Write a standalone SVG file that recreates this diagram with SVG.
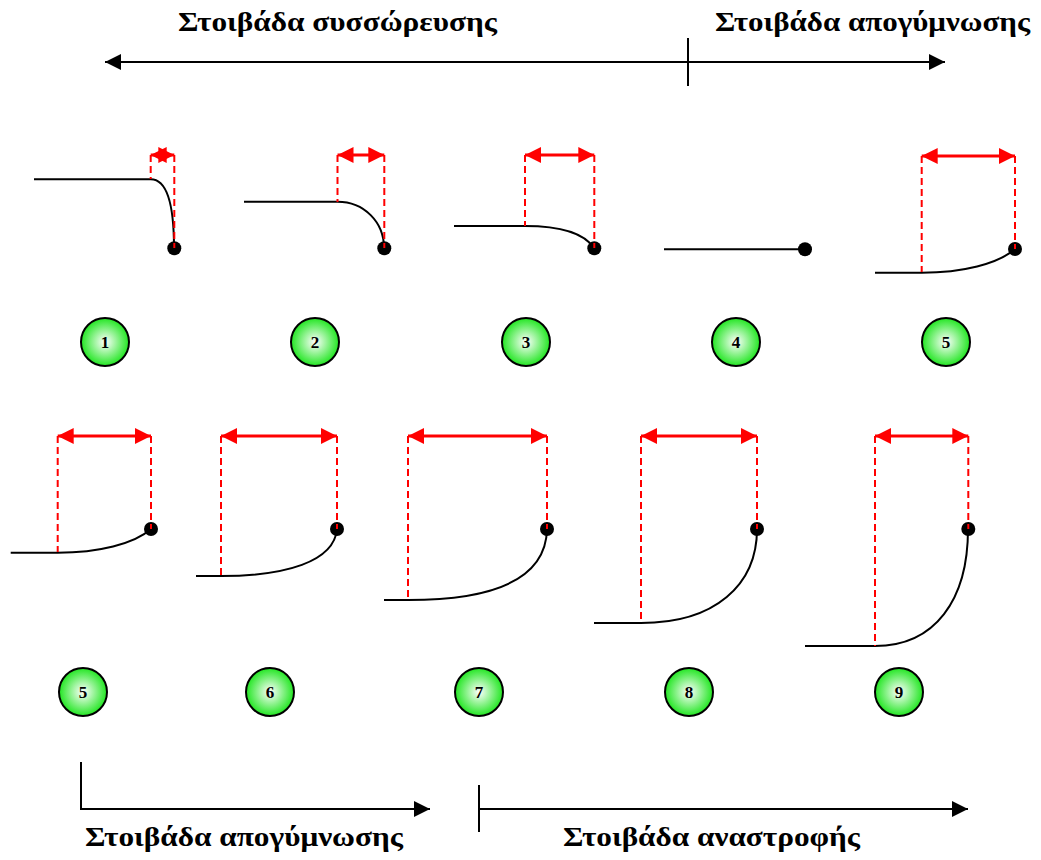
<svg xmlns="http://www.w3.org/2000/svg" width="1041" height="860" viewBox="0 0 1041 860">
<style>
.title{font-family:"Liberation Serif","DejaVu Serif","Times New Roman",serif;font-weight:bold;font-size:28px;fill:#000}
.num{font-family:"Liberation Serif","Times New Roman",serif;font-weight:bold;font-size:17px;fill:#000;text-anchor:middle}
.curve{fill:none;stroke:#000;stroke-width:2}
.dash{fill:none;stroke:#ff0000;stroke-width:2;stroke-dasharray:7,4}
.dim{fill:none;stroke:#ff0000;stroke-width:3;marker-start:url(#rs);marker-end:url(#re)}
.dot{fill:#000}
.badge{fill:url(#g);stroke:#000;stroke-width:2}
.axis{fill:none;stroke:#000;stroke-width:2}
</style>
<defs>
<radialGradient id="g" cx="50%" cy="50%" r="50%">
<stop offset="0" stop-color="#ffffff"/>
<stop offset="1" stop-color="#22e622"/>
</radialGradient>
<marker id="re" markerUnits="userSpaceOnUse" markerWidth="18" markerHeight="16" refX="16" refY="8" orient="auto"><path d="M0,0 L16,8 L0,16 Z" fill="#ff0000"/></marker>
<marker id="rs" markerUnits="userSpaceOnUse" markerWidth="18" markerHeight="16" refX="0" refY="8" orient="auto"><path d="M16,0 L0,8 L16,16 Z" fill="#ff0000"/></marker>
<marker id="ka" markerUnits="userSpaceOnUse" markerWidth="18" markerHeight="16" refX="16" refY="8" orient="auto"><path d="M0,0 L16,8 L0,16 Z" fill="#000"/></marker>
<marker id="kb" markerUnits="userSpaceOnUse" markerWidth="18" markerHeight="16" refX="0" refY="8" orient="auto"><path d="M16,0 L0,8 L16,16 Z" fill="#000"/></marker>
</defs>
<rect width="1041" height="860" fill="#fff"/>

<g id="labels">
<text class="title" x="178" y="31" textLength="319" lengthAdjust="spacingAndGlyphs">Στοιβάδα συσσώρευσης</text>
<text class="title" x="715" y="31" textLength="315" lengthAdjust="spacingAndGlyphs">Στοιβάδα απογύμνωσης</text>
<text class="title" x="85" y="846" textLength="318" lengthAdjust="spacingAndGlyphs">Στοιβάδα απογύμνωσης</text>
<text class="title" x="563" y="846" textLength="297" lengthAdjust="spacingAndGlyphs">Στοιβάδα αναστροφής</text>
</g>

<g id="connectors">
<path class="axis" d="M105,62 L945,62" marker-start="url(#kb)" marker-end="url(#ka)"/>
<path class="axis" d="M688,38 L688,86"/>
<path class="axis" d="M81,762 L81,809 L430,809" marker-end="url(#ka)"/>
<path class="axis" d="M479,785 L479,832"/>
<path class="axis" d="M479,809 L968,809" marker-end="url(#ka)"/>
</g>

<g id="panel1">
<path class="curve" d="M34,179.3 L150.7,179.3 C164,179.3 174,196 174,248"/>
<circle class="dot" cx="174.3" cy="248.3" r="7"/>
<path class="dash" d="M150.7,155 V179 M174.3,155 V248"/>
<path class="dim" d="M150.7,155 L174.3,155"/>
</g>
<g id="panel2">
<path class="curve" d="M244,201.7 L337.5,201.7 C364,201.7 384,222 384,248"/>
<circle class="dot" cx="384.3" cy="248.3" r="7"/>
<path class="dash" d="M337.5,155 V202 M384.3,155 V248"/>
<path class="dim" d="M337.5,155 L384.3,155"/>
</g>
<g id="panel3">
<path class="curve" d="M454,226 L525,226 C560,226 584,233 594,248"/>
<circle class="dot" cx="594.3" cy="248.3" r="7"/>
<path class="dash" d="M525,155 V226 M594.3,155 V248"/>
<path class="dim" d="M525,155 L594.3,155"/>
</g>
<g id="panel4">
<path class="curve" d="M664,249.3 L805,249.3"/>
<circle class="dot" cx="805" cy="249.3" r="7"/>
</g>
<g id="panel5a">
<path class="curve" d="M875,272.7 L921.7,272.7 C962,272.7 998,264 1015,249"/>
<circle class="dot" cx="1015" cy="249" r="7"/>
<path class="dash" d="M921.7,156 V272 M1015,156 V249"/>
<path class="dim" d="M921.7,156 L1015,156"/>
</g>

<g id="panel5b">
<path class="curve" d="M10.7,552.7 L57.7,552.7 C98,552.7 134,544 151,529"/>
<circle class="dot" cx="151" cy="529" r="7"/>
<path class="dash" d="M57.7,436 V552 M151,436 V529"/>
<path class="dim" d="M57.7,436 L151,436"/>
</g>
<g id="panel6">
<path class="curve" d="M196,576 L221,576 C285,576 334,562 337,529"/>
<circle class="dot" cx="337" cy="529" r="7"/>
<path class="dash" d="M221,436 V576 M337,436 V529"/>
<path class="dim" d="M221,436 L337,436"/>
</g>
<g id="panel7">
<path class="curve" d="M384,600 L408,600 C495,600 546,578 547,529"/>
<circle class="dot" cx="547" cy="529" r="7"/>
<path class="dash" d="M408,436 V600 M547,436 V529"/>
<path class="dim" d="M408,436 L547,436"/>
</g>
<g id="panel8">
<path class="curve" d="M594,623 L641,623 C715,623 757,585 757,529"/>
<circle class="dot" cx="757" cy="529" r="7"/>
<path class="dash" d="M641,436 V623 M757,436 V529"/>
<path class="dim" d="M641,436 L757,436"/>
</g>
<g id="panel9">
<path class="curve" d="M805,646 L875,646 C935,646 968,600 968,529"/>
<circle class="dot" cx="968.3" cy="529" r="7"/>
<path class="dash" d="M875,436 V646 M968.3,436 V529"/>
<path class="dim" d="M875,436 L968.3,436"/>
</g>

<g id="n1"><circle class="badge" cx="105" cy="342" r="24"/><text class="num" x="105" y="348">1</text></g>
<g id="n2"><circle class="badge" cx="315" cy="342" r="24"/><text class="num" x="315" y="348">2</text></g>
<g id="n3"><circle class="badge" cx="526" cy="342" r="24"/><text class="num" x="526" y="348">3</text></g>
<g id="n4"><circle class="badge" cx="736" cy="342" r="24"/><text class="num" x="736" y="348">4</text></g>
<g id="n5a"><circle class="badge" cx="946" cy="342" r="24"/><text class="num" x="946" y="348">5</text></g>
<g id="n5b"><circle class="badge" cx="83" cy="692" r="24"/><text class="num" x="83" y="698">5</text></g>
<g id="n6"><circle class="badge" cx="270" cy="692" r="24"/><text class="num" x="270" y="698">6</text></g>
<g id="n7"><circle class="badge" cx="479" cy="692" r="24"/><text class="num" x="479" y="698">7</text></g>
<g id="n8"><circle class="badge" cx="689" cy="692" r="24"/><text class="num" x="689" y="698">8</text></g>
<g id="n9"><circle class="badge" cx="899" cy="692" r="24"/><text class="num" x="899" y="698">9</text></g>
</svg>
